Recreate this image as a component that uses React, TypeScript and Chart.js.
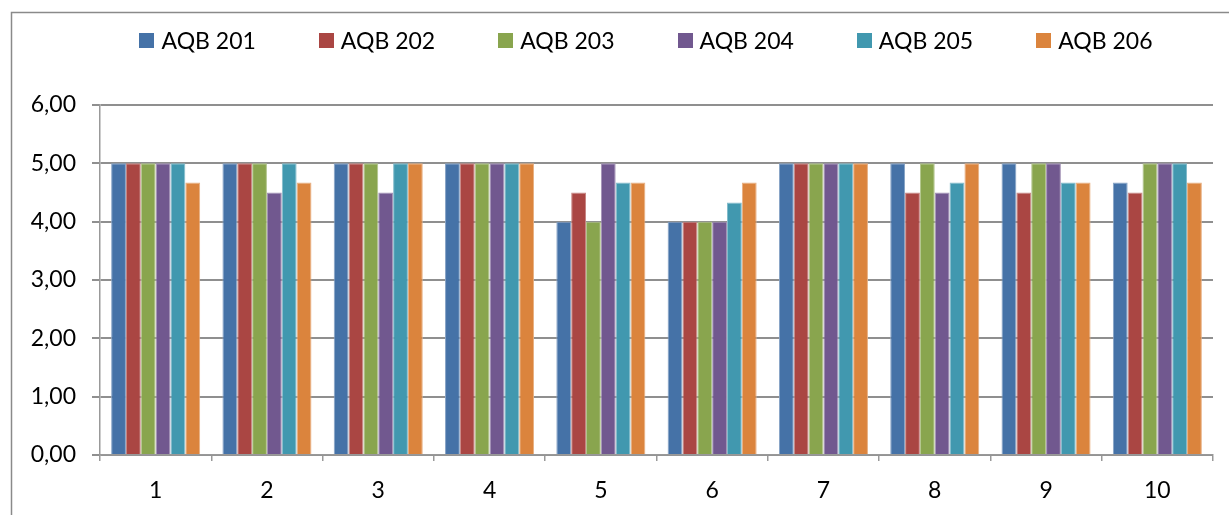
import React, { useEffect, useRef } from 'react';
import { Chart, registerables } from 'chart.js';

Chart.register(...registerables);

const categories = ['1', '2', '3', '4', '5', '6', '7', '8', '9', '10'];
const seriesNames = ['AQB 201', 'AQB 202', 'AQB 203', 'AQB 204', 'AQB 205', 'AQB 206'];
const aqb201 = [5, 5, 5, 5, 4, 4, 5, 5, 5, 4.67];
const aqb202 = [5, 5, 5, 5, 4.5, 4, 5, 4.5, 4.5, 4.5];
const aqb203 = [5, 5, 5, 5, 4, 4, 5, 5, 5, 5];
const aqb204 = [5, 4.5, 4.5, 5, 5, 4, 5, 4.5, 5, 5];
const aqb205 = [5, 5, 5, 5, 4.67, 4.33, 5, 4.67, 4.67, 5];
const aqb206 = [4.67, 4.67, 5, 5, 4.67, 4.67, 5, 5, 4.67, 4.67];
const seriesValues = [aqb201, aqb202, aqb203, aqb204, aqb205, aqb206];
const yMin = 0;
const yMax = 6;
const yStep = 1;

const colors = ['#4572A7', '#AA4643', '#89A54E', '#71588F', '#4198AF', '#DB843D'];

function lighten(hex: string, amt: number): string {
  const n = parseInt(hex.slice(1), 16);
  const r = (n >> 16) & 255, g = (n >> 8) & 255, b = n & 255;
  const f = (c: number) => Math.round(c + (255 - c) * amt);
  return `rgb(${f(r)},${f(g)},${f(b)})`;
}

const FONT = 'Lato, "Noto Sans", sans-serif';
const FONT_SIZE = 23;

const framePlugin = {
  id: 'frame',
  beforeDraw(chart: any) {
    const ctx = chart.ctx;
    ctx.save();
    ctx.fillStyle = '#ffffff';
    ctx.fillRect(0, 0, chart.width, chart.height);
    ctx.strokeStyle = '#8a8a8a';
    ctx.lineWidth = 1.5;
    ctx.strokeRect(11.5, 12.5, chart.width + 50, chart.height + 50);
    ctx.restore();
  },
};

const legendPlugin = {
  id: 'topLegend',
  afterDraw(chart: any) {
    const ctx = chart.ctx;
    ctx.save();
    ctx.font = `${FONT_SIZE}px ${FONT}`;
    const box = 15;
    const gapText = 7;
    const gap = 63;
    const items = chart.data.datasets.map((ds: any) => ({
      label: ds.label as string,
      color: ds.backgroundColor as string,
      w: box + gapText + ctx.measureText(ds.label).width,
    }));
    const total = items.reduce((s: number, it: any) => s + it.w, 0) + gap * (items.length - 1);
    let x = 646 - total / 2;
    const cy = 40.5;
    ctx.textBaseline = 'middle';
    ctx.textAlign = 'left';
    items.forEach((it: any) => {
      ctx.fillStyle = it.color;
      ctx.fillRect(Math.round(x), Math.round(cy - box / 2), box, box);
      ctx.fillStyle = '#000000';
      ctx.fillText(it.label, x + box + gapText, cy + 1);
      x += it.w + gap;
    });
    ctx.restore();
  },
};

export default function App() {
  const ref = useRef<HTMLCanvasElement | null>(null);

  useEffect(() => {
    document.body.style.margin = '0';
    if (!ref.current) return;
    const chart = new Chart(ref.current, {
      type: 'bar',
      data: {
        labels: categories,
        datasets: seriesNames.map((name, i) => ({
          label: name,
          data: seriesValues[i],
          backgroundColor: colors[i],
          borderColor: lighten(colors[i], 0.35),
          borderWidth: 1,
          categoryPercentage: 0.8,
          barPercentage: 1,
        })),
      },
      options: {
        responsive: false,
        animation: false,
        layout: { padding: { top: 105, right: 16, bottom: 0, left: 0 } },
        plugins: {
          legend: { display: false },
          tooltip: { enabled: false },
        },
        scales: {
          x: {
            offset: true,
            grid: {
              offset: true,
              drawOnChartArea: false,
              drawTicks: true,
              tickLength: 6,
              color: '#999999',
              lineWidth: 1.5,
            },
            border: { display: true, color: '#999999', width: 1.5 },
            ticks: {
              color: '#000000',
              font: { family: FONT, size: FONT_SIZE },
              padding: 16,
              maxRotation: 0,
            },
            afterFit(scale: any) {
              scale.height = 60;
            },
          },
          y: {
            min: yMin,
            max: yMax,
            ticks: {
              stepSize: yStep,
              color: '#000000',
              font: { family: FONT, size: FONT_SIZE },
              padding: 16,
              callback: (v: any) => Number(v).toFixed(2).replace('.', ','),
            },
            grid: {
              color: '#8f8f8f',
              lineWidth: 2,
              drawTicks: true,
              tickLength: 8,
            },
            border: { display: true, color: '#999999', width: 1.5 },
            afterFit(scale: any) {
              scale.width = 100;
            },
          },
        },
      },
      plugins: [framePlugin, legendPlugin],
    });
    return () => chart.destroy();
  }, []);

  return (
    <div style={{ width: 1229, height: 515 }}>
      <canvas ref={ref} width={1229} height={515} style={{ display: 'block' }} />
    </div>
  );
}
